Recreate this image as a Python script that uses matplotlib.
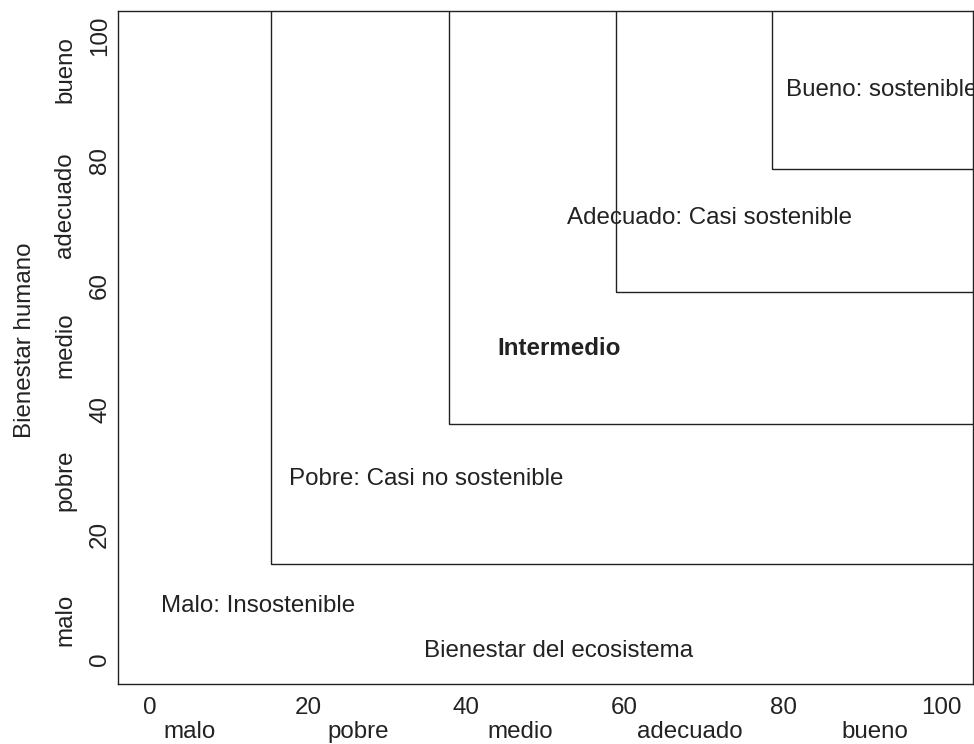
import matplotlib
matplotlib.use("Agg")
import matplotlib.pyplot as plt
from matplotlib.patches import Rectangle
from matplotlib.transforms import blended_transform_factory

plt.rcParams['font.family'] = ['Liberation Sans', 'DejaVu Sans']

# ---- data ----
thresholds = [15.3, 37.8, 58.9, 78.6]          # lower-left corners of nested zones
tick_values = [0, 20, 40, 60, 80, 100]
tick_labels = ["0", "20", "40", "60", "80", "100"]
level_names = ["malo", "pobre", "medio", "adecuado", "bueno"]
zone_labels = ["Malo: Insostenible", "Pobre: Casi no sostenible", "Intermedio",
               "Adecuado: Casi sostenible", "Bueno: sostenible"]
xlabel_text = "Bienestar del ecosistema"
ylabel_text = "Bienestar humano"

# ---- layout (positions in data units) ----
zone_label_pos = [(1.4, 8.5), (17.6, 28.9), (43.9, 49.8), (52.7, 70.8), (80.4, 91.3)]
xlevel_pos = [5.1, 26.3, 46.8, 68.2, 91.6]
ylevel_pos = [6.3, 28.7, 50.4, 72.9, 94.6]

ink = "#222222"
fs = 17.4

fig = plt.figure(figsize=(9.74, 7.44), dpi=100)
ax = fig.add_axes([118/974, 60/744, 855/974, 673/744])
ax.set_xlim(-4, 104)
ax.set_ylim(-4, 104)

for v in thresholds:
    ax.add_patch(Rectangle((v, v), 300, 300, fill=False, edgecolor=ink,
                           linewidth=1.0, clip_on=True))

for s in ax.spines.values():
    s.set_color(ink)
    s.set_linewidth(1.0)

ax.set_xticks(tick_values)
ax.set_xticklabels(tick_labels)
ax.set_yticks(tick_values)
ax.set_yticklabels(tick_labels, rotation=90, va='center')
ax.tick_params(axis='both', length=0, labelsize=fs, colors=ink)
ax.tick_params(axis='x', pad=9)
ax.tick_params(axis='y', pad=5)

for lab, (px, py) in zip(zone_labels, zone_label_pos):
    ax.text(px, py, lab, fontsize=fs, color=ink, ha='left', va='center',
            fontweight='bold' if lab == "Intermedio" else 'normal', clip_on=True)

ax.text(34.6, 1.3, xlabel_text, fontsize=fs, color=ink, ha='left', va='center')

tx = blended_transform_factory(ax.transData, fig.transFigure)
for name, p in zip(level_names, xlevel_pos):
    fig.text(p, 1 - 732/744, name, transform=tx, fontsize=fs, color=ink,
             ha='center', va='center')

ty = blended_transform_factory(fig.transFigure, ax.transData)
for name, p in zip(level_names, ylevel_pos):
    fig.text(65/974, p, name, transform=ty, fontsize=fs, color=ink,
             ha='center', va='center', rotation=90)

fig.text(25/974, 1 - 340/744, ylabel_text, fontsize=fs, color=ink,
         ha='center', va='center', rotation=90)

fig.savefig("out.png", dpi=100)
